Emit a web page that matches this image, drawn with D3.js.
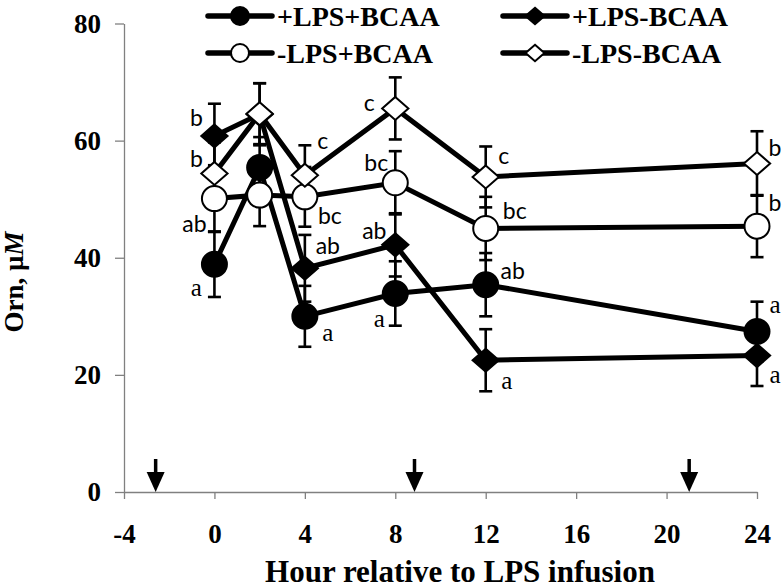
<!DOCTYPE html>
<html>
<head>
<meta charset="utf-8">
<script src="https://cdn.jsdelivr.net/npm/d3@7"></script>
<style>
  body { margin: 0; background: #fff; }
  svg { display: block; }
</style>
</head>
<body>
<div id="chart"></div>
<script>
// hours of sampling
const hours = [0, 2, 4, 8, 12, 24];

// Orn, uM (means) for each group
const plusLpsPlusBcaa = [38.9, 55.4, 30.0, 33.9, 35.4, 27.4];
const plusLpsMinusBcaa = [60.8, 64.5, 38.2, 42.2, 22.5, 23.3];
const minusLpsPlusBcaa = [50.1, 50.7, 50.4, 52.8, 45.0, 45.4];
const minusLpsMinusBcaa = [54.4, 64.6, 54.1, 65.5, 53.8, 56.1];

// standard errors
const errPlusPlus = [5.6, 5.2, 5.2, 5.5, 5.4, 5.1];
const errPlusMinus = [5.5, 5.3, 5.7, 5.4, 5.3, 5.2];
const errMinusPlus = [5.7, 5.3, 5.1, 5.4, 5.4, 5.3];
const errMinusMinus = [5.3, 5.2, 5.1, 5.3, 5.2, 5.5];

// letters of significance
const lettersPlusPlus = ["a", "", "a", "a", "ab", "a"];
const lettersPlusMinus = ["b", "", "ab", "ab", "a", "a"];
const lettersMinusPlus = ["ab", "", "bc", "bc", "bc", "b"];
const lettersMinusMinus = ["b", "", "c", "c", "c", "b"];

// arrows on the time axis (hours)
const arrowHours = [-2.6, 8.85, 21];

const xTicks = [-4, 0, 4, 8, 12, 16, 20, 24];
const yTicks = [0, 20, 40, 60, 80];

const seriesNames = ["+LPS+BCAA", "+LPS-BCAA", "-LPS+BCAA", "-LPS-BCAA"];

let width = 784, height = 588;
let margin = { top: 23.5, right: 27, bottom: 96, left: 124 };

let svg = d3.select('#chart').append('svg')
  .attr('width', width)
  .attr('height', height);

let x = d3.scaleLinear().domain([-4, 24]).range([margin.left, width - margin.right]);
let y = d3.scaleLinear().domain([0, 80]).range([height - margin.bottom, margin.top]);

const serif = '"Liberation Serif", "Times New Roman", serif';

// axes (plain hyphen for negatives, like the original)
let yAxis = svg.append('g')
  .attr('transform', `translate(${margin.left},0)`)
  .call(d3.axisLeft(y).tickValues(yTicks).tickFormat(d => String(d))
    .tickSize(9).tickSizeOuter(0).tickPadding(14));

let xAxis = svg.append('g')
  .attr('transform', `translate(0,${height - margin.bottom})`)
  .call(d3.axisBottom(x).tickValues(xTicks).tickFormat(d => String(d))
    .tickSize(7).tickSizeOuter(0).tickPadding(25));

[xAxis, yAxis].forEach(a => {
  a.selectAll('path, line').attr('stroke', '#808080').attr('stroke-width', 1.3);
  a.selectAll('text')
    .attr('fill', '#000')
    .style('font-family', serif)
    .style('font-weight', 'bold')
    .style('font-size', '27px');
});

// axis titles
svg.append('text')
  .attr('x', 460)
  .attr('y', 582)
  .attr('text-anchor', 'middle')
  .style('font-family', serif).style('font-weight', 'bold').style('font-size', '31px')
  .text('Hour relative to LPS infusion');

let yt = svg.append('text')
  .attr('transform', 'translate(23,282) rotate(-90)')
  .attr('text-anchor', 'middle')
  .style('font-family', serif).style('font-weight', 'bold').style('font-size', '27px');
yt.append('tspan').text('Orn, µ');
yt.append('tspan').style('font-style', 'italic').text('M');

// arrows
arrowHours.forEach(h => {
  const ax = x(h), base = y(0);
  svg.append('line')
    .attr('x1', ax).attr('x2', ax)
    .attr('y1', base - 33).attr('y2', base - 18)
    .attr('stroke', '#000').attr('stroke-width', 3.5);
  svg.append('path')
    .attr('d', `M${ax - 9},${base - 20} L${ax + 9},${base - 20} L${ax},${base} Z`)
    .attr('fill', '#000');
});

// series setup
const series = [
  { name: seriesNames[0], values: plusLpsPlusBcaa, err: errPlusPlus, letters: lettersPlusPlus, shape: 'circle', fill: '#000' },
  { name: seriesNames[1], values: plusLpsMinusBcaa, err: errPlusMinus, letters: lettersPlusMinus, shape: 'diamond', fill: '#000' },
  { name: seriesNames[2], values: minusLpsPlusBcaa, err: errMinusPlus, letters: lettersMinusPlus, shape: 'circle', fill: '#fff' },
  { name: seriesNames[3], values: minusLpsMinusBcaa, err: errMinusMinus, letters: lettersMinusMinus, shape: 'diamond', fill: '#fff' }
];

// where each letter sits relative to its point (px)
const letterOffsets = [
  [[-18, 23], null, [23, 16], [-16, 25], [27, -15], [18, -27]],
  [[-18, -19], null, [23, -23], [-21, -15], [21, 20], [18, 19]],
  [[-20, 24], null, [25, 18], [-19, -21], [29, -18], [18, -24]],
  [[-18, -15], null, [18, -35], [-26, -6], [18, -22], [18, -16]]
];

function drawMarker(g, shape, cx, cy, fill, r) {
  if (shape === 'circle') {
    g.append('circle').attr('cx', cx).attr('cy', cy).attr('r', r)
      .attr('fill', fill).attr('stroke', '#000').attr('stroke-width', 2);
  } else {
    const w = r * 1.05, hh = r * 0.92;
    g.append('path')
      .attr('d', `M${cx},${cy - hh} L${cx + w},${cy} L${cx},${cy + hh} L${cx - w},${cy} Z`)
      .attr('fill', fill).attr('stroke', '#000').attr('stroke-width', 2);
  }
}

const line = d3.line().x(d => x(d[0])).y(d => y(d[1]));

// error bars first (behind lines and markers)
series.forEach(s => {
  s.values.forEach((v, i) => {
    const cx = x(hours[i]);
    const g = svg.append('g').attr('stroke', '#000').attr('stroke-width', 2.6);
    g.append('line').attr('x1', cx).attr('x2', cx).attr('y1', y(v - s.err[i])).attr('y2', y(v + s.err[i]));
    [v - s.err[i], v + s.err[i]].forEach(e => {
      g.append('line').attr('x1', cx - 6.5).attr('x2', cx + 6.5).attr('y1', y(e)).attr('y2', y(e));
    });
  });
});

series.forEach(s => {
  svg.append('path')
    .datum(hours.map((h, i) => [h, s.values[i]]))
    .attr('d', line)
    .attr('fill', 'none')
    .attr('stroke', '#000')
    .attr('stroke-width', 5);
  const g = svg.append('g');
  s.values.forEach((v, i) => drawMarker(g, s.shape, x(hours[i]), y(v), s.fill, 12.5));
});

// letters
series.forEach((s, si) => {
  s.letters.forEach((t, i) => {
    if (!t) return;
    const off = letterOffsets[si][i];
    svg.append('text')
      .attr('x', x(hours[i]) + off[0])
      .attr('y', y(s.values[i]) + off[1])
      .attr('text-anchor', 'middle')
      .attr('dominant-baseline', 'central')
      .style('font-family', t === 'a' ? serif : 'Lato, "Open Sans", sans-serif')
      .style('font-size', t === 'a' ? '25px' : '23px')
      .text(t);
  });
});

// legend
const legendCols = [208, 503];
const legendRows = [16, 53];
series.forEach((s, i) => {
  const lx = legendCols[i % 2], ly = legendRows[Math.floor(i / 2)];
  const g = svg.append('g');
  g.append('line').attr('x1', lx).attr('x2', lx + 64).attr('y1', ly).attr('y2', ly)
    .attr('stroke', '#000').attr('stroke-width', 5.5).attr('stroke-linecap', 'round');
  drawMarker(g, s.shape, lx + 32, ly, s.fill, 9);
  g.append('text')
    .attr('x', lx + 69).attr('y', ly)
    .attr('dominant-baseline', 'central')
    .style('font-family', serif).style('font-weight', 'bold').style('font-size', '28px')
    .text(s.name);
});
</script>
</body>
</html>
